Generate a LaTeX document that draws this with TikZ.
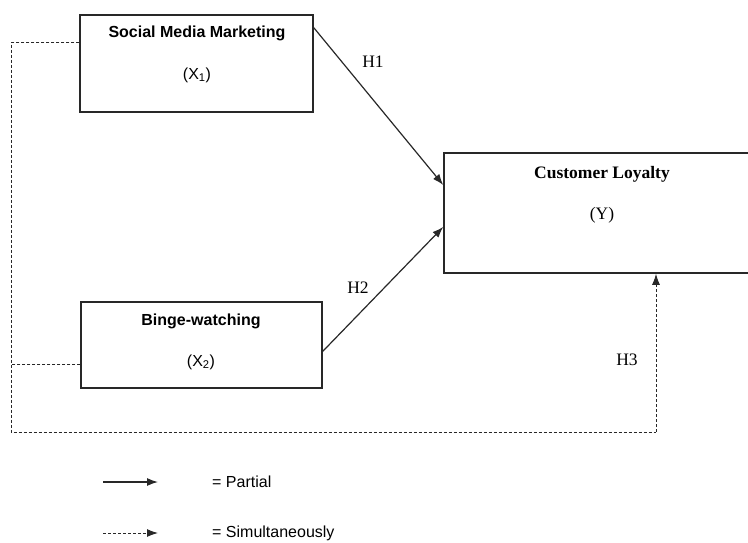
\documentclass[tikz,border=0pt]{standalone}
\usepackage{fontspec}
\setmainfont{Liberation Serif}
\setsansfont{Liberation Sans}
\usepackage{tikz}
\usetikzlibrary{arrows.meta,positioning,calc}
\definecolor{linegray}{RGB}{40,40,40}

\tikzset{
    varbox/.style={draw=linegray, line width=1.5pt, rectangle, inner sep=0pt},
    partial/.style={draw=linegray, line width=1.2pt, -{Latex[length=11pt,width=8pt]}},
    simul/.style={draw=linegray, line width=1pt, dash pattern=on 3pt off 2pt},
    sanslbl/.style={font=\sffamily\fontsize{16}{19}\selectfont},
    seriflbl/.style={font=\rmfamily\fontsize{17.5}{20}\selectfont},
}

\begin{document}
\begin{tikzpicture}[x=1pt, y=-1pt]
    \useasboundingbox (0,0) rectangle (748,542);

    % Independent variables
    \node[varbox, minimum width=233pt, minimum height=97pt] (smm) at (196.5,63.5) {};
    \node[sanslbl, font=\sffamily\bfseries\fontsize{16}{19}\selectfont] (smmT) at (197,33) {Social Media Marketing};
    \node[sanslbl] (smmX) at (197,75) {(X\textsubscript{1})};

    \node[varbox, minimum width=241pt, minimum height=86pt] (bw) at (201.5,345) {};
    \node[sanslbl, font=\sffamily\bfseries\fontsize{16}{19}\selectfont] (bwT) at (201,321) {Binge-watching};
    \node[sanslbl] (bwX) at (201,362) {(X\textsubscript{2})};

    % Dependent variable
    \node[varbox, minimum width=316pt, minimum height=120pt] (cl) at (602,213) {};
    \node[seriflbl, font=\rmfamily\bfseries\fontsize{17.5}{20}\selectfont] (clT) at (602,174) {Customer Loyalty};
    \node[seriflbl] (clY) at (602,215) {(Y)};

    % Partial paths
    \draw[partial] (smm.17) -- (cl.170);
    \draw[partial] (bw.-3) -- (cl.185);
    \node[seriflbl] (h1) at (373,62) {H1};
    \node[seriflbl] (h2) at (358,288) {H2};

    % Simultaneous path
    \coordinate (lb) at (11,432);
    \coordinate (rb) at (656,432);
    \draw[simul] (smm.170) -| (lb) -- (rb);
    \draw[simul] (bw.189) -- (bw.189 -| lb);
    \draw[simul, -{Latex[length=11pt,width=8pt]}] (rb) -- (rb |- cl.south);
    \node[seriflbl] (h3) at (627,360) {H3};

    % Legend
    \coordinate (pA) at (103,482);
    \coordinate (pB) at (158,482);
    \coordinate (sA) at (103,533);
    \coordinate (sB) at (158,533);
    \draw[partial] (pA) -- (pB);
    \draw[simul, -{Latex[length=11pt,width=8pt]}] (sA) -- (sB);
    \node[sanslbl, anchor=west, inner sep=0pt] (pTxt) at (212,482) {= Partial};
    \node[sanslbl, anchor=west, inner sep=0pt] (sTxt) at (212,533) {= Simultaneously};

\end{tikzpicture}
\end{document}
